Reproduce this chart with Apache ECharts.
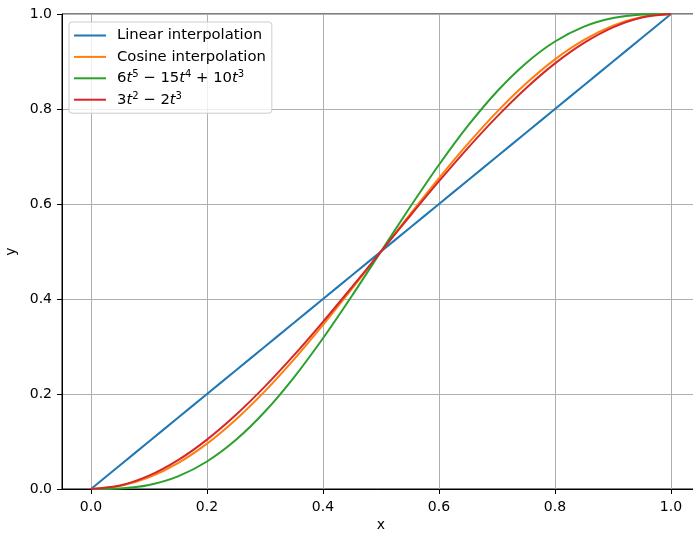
<!DOCTYPE html>
<html>
<head>
<meta charset="utf-8">
<script src="https://cdn.jsdelivr.net/npm/echarts@6/dist/echarts.min.js"></script>
<style>html,body{margin:0;padding:0;background:#fff}#c{width:693px;height:534px}</style>
</head>
<body>
<div id="c"></div>
<script>
const xValues = [0,0.05,0.1,0.15,0.2,0.25,0.3,0.35,0.4,0.45,0.5,0.55,0.6,0.65,0.7,0.75,0.8,0.85,0.9,0.95,1];
const linearY = [0,0.05,0.1,0.15,0.2,0.25,0.3,0.35,0.4,0.45,0.5,0.55,0.6,0.65,0.7,0.75,0.8,0.85,0.9,0.95,1];
const cosineY = [0,0.00616,0.02447,0.0545,0.09549,0.14645,0.20611,0.273,0.34549,0.42178,0.5,0.57822,0.65451,0.727,0.79389,0.85355,0.90451,0.9455,0.97553,0.99384,1];
const quinticY = [0,0.001158,0.00856,0.026612,0.05792,0.103516,0.16308,0.235169,0.31744,0.406873,0.5,0.593127,0.68256,0.764831,0.83692,0.896484,0.94208,0.973388,0.99144,0.998842,1];
const cubicY = [0,0.00725,0.028,0.06075,0.104,0.15625,0.216,0.28175,0.352,0.42525,0.5,0.57475,0.648,0.71825,0.784,0.84375,0.896,0.93925,0.972,0.99275,1];
const xTicks = [0,0.2,0.4,0.6,0.8,1.0];
const yTicks = [0,0.2,0.4,0.6,0.8,1.0];
const seriesNames = ['Linear interpolation','Cosine interpolation','quintic','cubic'];
const seriesColors = ['#1f77b4','#ff7f0e','#2ca02c','#d62728'];
const seriesData = [linearY, cosineY, quinticY, cubicY];

const FONT = 'DejaVu Sans';
const chart = echarts.init(document.getElementById('c'), null, {renderer:'canvas'});
const pairs = (ys) => xValues.map((x,i)=>[x, ys[i]]);

const legendLabels = {
  'Linear interpolation': 'Linear interpolation',
  'Cosine interpolation': 'Cosine interpolation',
  'quintic': '{n|6}{i|t}{s|5}{n| − 15}{i|t}{s|4}{n| + 10}{i|t}{s|3}',
  'cubic': '{n|3}{i|t}{s|2}{n| − 2}{i|t}{s|3}'
};

chart.setOption({
  animation: false,
  backgroundColor: '#fff',
  grid: [
    {left: 62, top: 14, width: 638, height: 475, show: true, borderColor: '#000', borderWidth: 1,
     backgroundColor: 'transparent', outerBoundsMode: 'none', containLabel: false},
    {left: 91, top: 14, width: 580, height: 475, outerBoundsMode: 'none', containLabel: false}
  ],
  legend: {
    data: seriesNames,
    orient: 'vertical',
    left: 69, top: 22,
    padding: [5, 6, 5, 5],
    itemWidth: 32, itemHeight: 2,
    itemGap: 4.4,
    icon: 'rect',
    backgroundColor: 'rgba(255,255,255,0.8)',
    borderColor: '#cccccc', borderWidth: 1, borderRadius: 3,
    formatter: (name) => legendLabels[name],
    textStyle: {
      fontFamily: FONT, fontSize: 14.8, color: '#000', lineHeight: 17, padding: [0,0,0,6],
      rich: {
        n: {fontFamily: FONT, fontSize: 14.8, color: '#000', lineHeight: 17},
        i: {fontFamily: FONT, fontSize: 14.8, fontStyle: 'italic', color: '#000', lineHeight: 17},
        s: {fontFamily: FONT, fontSize: 10, color: '#000', lineHeight: 17, verticalAlign: 'top', padding: [0,0,6,0]}
      }
    }
  },
  xAxis: [
    {gridIndex: 0, type: 'value', min: -0.05, max: 1.05,
     axisLine: {show: true, onZero: false, lineStyle: {color: '#000', width: 1}},
     axisTick: {show: false}, axisLabel: {show: false}, splitLine: {show: false},
     name: 'x', nameLocation: 'middle', nameGap: 29,
     nameTextStyle: {fontFamily: FONT, fontSize: 14, color: '#000'}},
    {gridIndex: 1, type: 'value', min: 0, max: 1, interval: 0.2,
     axisLine: {show: false, onZero: false},
     axisTick: {show: true, length: 5, lineStyle: {color: '#000', width: 1}},
     axisLabel: {show: true, margin: 11, fontFamily: FONT, fontSize: 14, color: '#000',
       formatter: (v) => xTicks.some(t => Math.abs(t - v) < 1e-9) ? v.toFixed(1) : ''},
     splitLine: {show: true, lineStyle: {color: '#b0b0b0', width: 1}}}
  ],
  yAxis: [
    {gridIndex: 0, type: 'value', min: 0, max: 1, interval: 0.2,
     axisLine: {show: true, onZero: false, lineStyle: {color: '#000', width: 1}},
     axisTick: {show: true, length: 5, lineStyle: {color: '#000', width: 1}},
     axisLabel: {show: true, margin: 10, fontFamily: FONT, fontSize: 14, color: '#000',
       formatter: (v) => yTicks.some(t => Math.abs(t - v) < 1e-9) ? v.toFixed(1) : ''},
     splitLine: {show: true, lineStyle: {color: '#b0b0b0', width: 1}},
     name: 'y', nameLocation: 'middle', nameGap: 35, nameRotate: 90,
     nameTextStyle: {fontFamily: FONT, fontSize: 14, color: '#000'}},
    {gridIndex: 1, type: 'value', min: 0, max: 1, show: false, splitLine: {show: false},
     axisLine: {onZero: false}}
  ],
  series: seriesNames.map((name, k) => ({
    name: name, type: 'line', xAxisIndex: 1, yAxisIndex: 1,
    data: pairs(seriesData[k]), smooth: 0.3, showSymbol: false, symbol: 'none', clip: false,
    lineStyle: {color: seriesColors[k], width: 2}, itemStyle: {color: seriesColors[k]},
    z: 3 + k
  }))
});
</script>
</body>
</html>
